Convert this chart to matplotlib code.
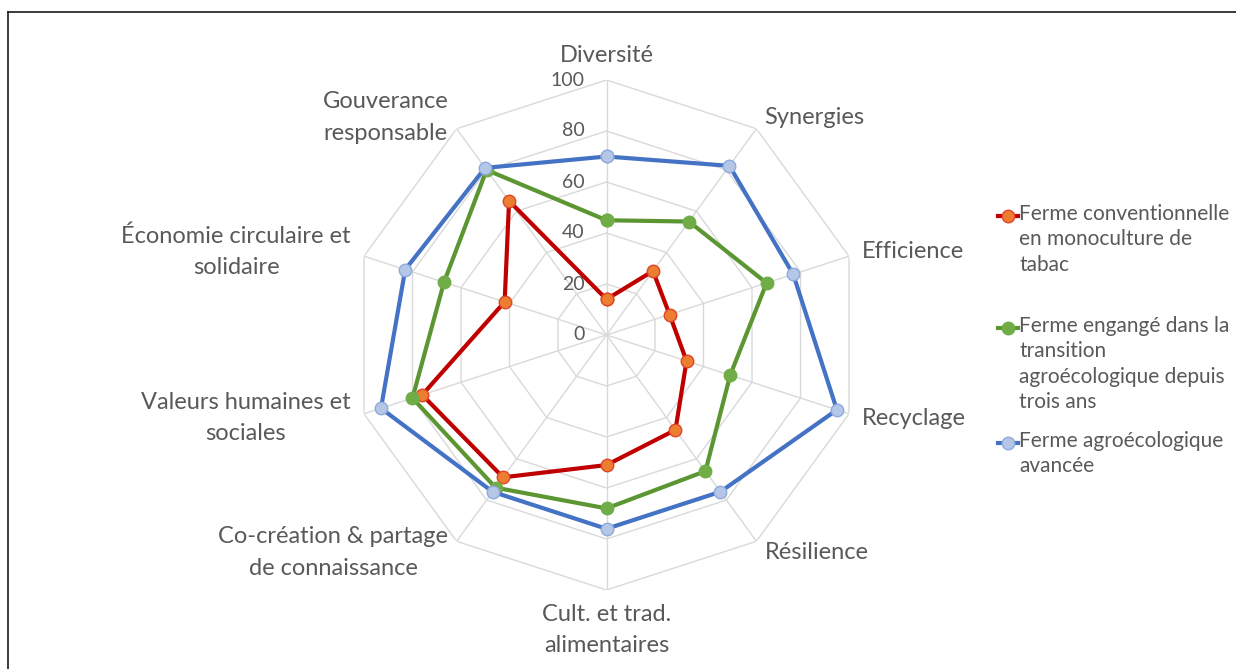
import numpy as np
import matplotlib.pyplot as plt
from matplotlib.lines import Line2D

plt.rcParams['font.family'] = ['Lato', 'DejaVu Sans']

categories = ["Diversité", "Synergies", "Efficience", "Recyclage", "Résilience",
              "Cult. et trad.\nalimentaires", "Co-création & partage\nde connaissance",
              "Valeurs humaines et\nsociales", "Économie circulaire et\nsolidaire",
              "Gouverance\nresponsable"]
conv = [14, 31, 26, 33, 46, 51, 69, 76, 42, 65]
transition = [45, 55, 66, 51, 66, 68, 74, 80, 67, 80]
avancee = [70, 82, 77, 95, 76, 76, 76, 93, 83, 81]
series_names = ["Ferme conventionnelle\nen monoculture de\ntabac",
                "Ferme engangé dans la\ntransition\nagroécologique depuis\ntrois ans",
                "Ferme agroécologique\navancée"]
ticks = [0, 20, 40, 60, 80, 100]

line_colors = ["#C00000", "#5B9632", "#4472C4"]
face_colors = ["#ED7D31", "#70AD47", "#B4C7E7"]
edge_colors = ["#E0452A", "#70AD47", "#8FAADC"]
txt = "#595959"

W, H = 1236, 669
fig = plt.figure(figsize=(W / 100, H / 100), dpi=100)
cx, cy, R = 606.5, 335, 255
ax = fig.add_axes([(cx - R) / W, (H - cy - R) / H, 2 * R / W, 2 * R / H], projection='polar')
ax.set_theta_offset(np.pi / 2)
ax.set_theta_direction(-1)
ax.set_ylim(0, 100)
ax.grid(False)
ax.spines['polar'].set_visible(False)
ax.set_xticks([])
ax.set_yticks([])
ax.patch.set_alpha(0)

n = len(categories)
theta = np.linspace(0, 2 * np.pi, n, endpoint=False)
theta_c = np.append(theta, theta[0])

# polygon grid
for t in ticks[1:]:
    ax.plot(theta_c, [t] * (n + 1), color="#D9D9D9", lw=1, zorder=1)
for th in theta:
    ax.plot([th, th], [0, 100], color="#D9D9D9", lw=1, zorder=1)

for t in ticks:
    ax.annotate(str(t), xy=(0, t), xytext=(-16, 0), textcoords='offset points',
                ha='right', va='center', fontsize=14, color=txt)

for th, lab in zip(theta, categories):
    sx, sy = np.sin(th), np.cos(th)
    if abs(sx) < 0.1:
        ha = 'center'
        va = 'bottom' if sy > 0 else 'top'
    else:
        ha = 'left' if sx > 0 else 'right'
        va = 'center'
    d = 10
    ax.annotate(lab, xy=(th, 100), xytext=(sx * d, sy * d), textcoords='offset points',
                ha=ha, va=va, fontsize=17, color=txt, multialignment='center',
                linespacing=1.6)

data = [conv, transition, avancee]
for i, vals in enumerate(data):
    v = np.append(vals, vals[0])
    ax.plot(theta_c, v, color=line_colors[i], lw=3, marker='o', markersize=9,
            markerfacecolor=face_colors[i], markeredgecolor=edge_colors[i],
            markeredgewidth=1, zorder=3 + i)

# legend
leg_y = [216, 328, 443]
for i, name in enumerate(series_names):
    y = 1 - leg_y[i] / H
    fig.add_artist(Line2D([998 / W, 1018 / W], [y, y], color=line_colors[i], lw=3,
                          transform=fig.transFigure))
    fig.add_artist(Line2D([1008 / W], [y], marker='o', markersize=9,
                          markerfacecolor=face_colors[i], markeredgecolor=edge_colors[i],
                          transform=fig.transFigure))
    fig.text(1019 / W, 1 - (leg_y[i] - 12) / H, name, ha='left', va='top', fontsize=15,
             color=txt, linespacing=1.33, transform=fig.transFigure)

# frame
fig.add_artist(Line2D([8 / W, 1], [1 - 12 / H, 1 - 12 / H], color="#1A1A1A", lw=1.2,
                      transform=fig.transFigure))
fig.add_artist(Line2D([8 / W, 8 / W], [0, 1 - 12 / H], color="#1A1A1A", lw=1.2,
                      transform=fig.transFigure))

fig.savefig("out.png", dpi=100)
